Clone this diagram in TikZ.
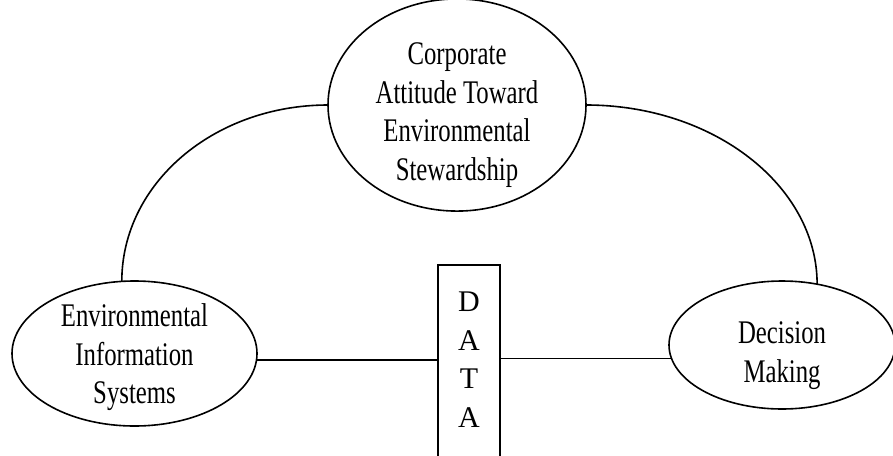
\documentclass[tikz,border=0pt]{standalone}
\usepackage{fontspec}
\setmainfont{Liberation Serif}
\newfontfamily\narrowfont[FakeStretch=0.75]{Liberation Serif}
\usetikzlibrary{shapes.geometric}
\usetikzlibrary{calc}
\tikzset{
	bubble/.style={draw,ellipse,inner sep=0pt,outer sep=0pt,align=center,
		font=\narrowfont\fontsize{33}{38.5}\selectfont},
	databox/.style={draw,rectangle,inner sep=0pt,outer sep=0pt,align=center,
		minimum width=62pt,minimum height=215pt,
		font=\fontsize{30}{38.5}\selectfont},
}

\begin{document}
\begin{tikzpicture}[x=1pt,y=-1pt,line width=1.6pt]
	\useasboundingbox (0,0) rectangle (893,455);

	% top ellipse.....................
	\node [bubble,minimum width=258pt,minimum height=194pt,text height=150pt,text depth=-14pt] (corp) at (457,105)
		{Corporate\\Attitude Toward\\Environmental\\Stewardship};

	% left ellipse....................
	\node [bubble,minimum width=245pt,minimum height=145pt,text height=100pt,text depth=-3pt] (eis) at (134.5,353.5)
		{Environmental\\Information\\Systems};

	% right ellipse...................
	\node [bubble,minimum width=226pt,minimum height=128pt,text height=80pt,text depth=6pt] (dm) at (782,345)
		{Decision\\Making};

	% data box........................
	\node [databox,text height=115pt,text depth=6pt] (data) at (469,372.5) {D\\A\\T\\A};

	% arcs down from the top ellipse..........
	\draw (corp.west) .. controls +(-114,0) and +(0,-98) .. (eis.100);
	\draw (corp.east) .. controls +(128,0) and +(0,-98) .. (dm.60);

	% lines through the data box..............
	\draw (eis.-3) -- (eis.-3 -| data.west);
	\draw (data.east |- dm.187.7) -- (dm.187.7);
\end{tikzpicture}
\end{document}
